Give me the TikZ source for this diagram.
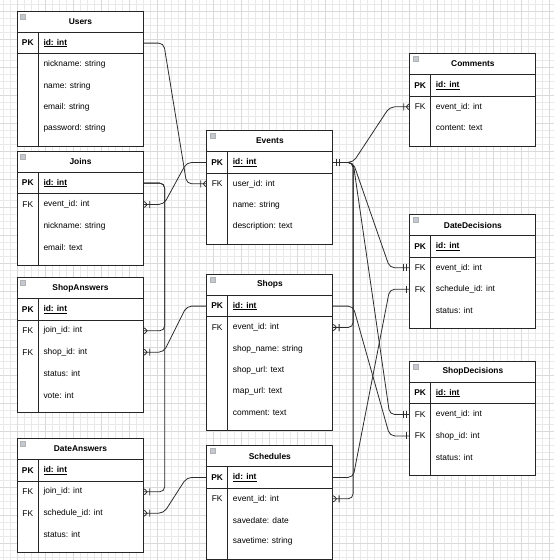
\documentclass[tikz,border=0pt]{standalone}
\usepackage{fontspec}
\setmainfont{Liberation Sans}
\usepackage{tikz}
\usetikzlibrary{positioning,backgrounds,decorations.markings}
\definecolor{gridminor}{RGB}{233,233,233}
\definecolor{gridmajor}{RGB}{218,218,218}
\definecolor{linegray}{RGB}{45,45,45}
\definecolor{icongray}{RGB}{196,200,208}

\newcommand{\tblfont}{\fontsize{8.4}{10}\selectfont}
\newcommand{\ertable}[5]{%
  \node[tblhead, anchor=north west] (#1) at (#2) {#3};
  \node[tblrow, anchor=north west] (#1-0) at (#1.south west) {};
  \node[keytext, font=\tblfont\bfseries] at ([xshift=10.5pt]#1-0.west) {PK};
  \node[fieldtext, font=\tblfont\bfseries] at ([xshift=26pt]#1-0.west) {\underline{#4}};
  \coordinate (#1-end) at (#1-0.south west);
  \foreach \k/\f [count=\i, remember=\i as \j (initially 0)] in {#5} {
    \node[tblrow, anchor=north west] (#1-\i) at (#1-\j.south west) {};
    \node[keytext] at ([xshift=10.5pt]#1-\i.west) {\k};
    \node[fieldtext] at ([xshift=26pt]#1-\i.west) {\f};
    \coordinate (#1-end) at (#1-\i.south west);
  }
  \begin{scope}[on background layer]
    \draw[tblline, fill=white] (#1.north west) rectangle ([xshift=126pt, yshift=-7pt]#1-end);
  \end{scope}
  \draw[tblline] (#1.south west) -- (#1.south east);
  \draw[tblline] (#1-0.south west) -- (#1-0.south east);
  \draw[tblline] ([xshift=21pt]#1-0.north west) -- ([xshift=21pt, yshift=-7pt]#1-end);
  \node[tblicon] at ([xshift=5.5pt, yshift=-5.5pt]#1.north west) {};
}

\begin{document}
\begin{tikzpicture}[x=1pt, y=1pt,
    tblhead/.style={minimum width=126pt, minimum height=21pt, inner sep=0pt, font=\tblfont\bfseries},
    tblrow/.style={minimum width=126pt, minimum height=21pt, inner sep=0pt},
    keytext/.style={inner sep=0pt, font=\tblfont},
    fieldtext/.style={anchor=west, inner sep=0pt, font=\tblfont},
    tblline/.style={draw=black!85, line width=0.8pt},
    tblicon/.style={draw=gray!60, fill=icongray, minimum size=5pt, inner sep=0pt},
    rel/.style={draw=linegray, line width=0.8pt, rounded corners=5pt},
    onemany/.style={postaction={decorate, decoration={markings, mark=at position 1 with {
      \draw[linegray, line width=0.8pt] (0,3) -- (-6,0) -- (0,-3) (-6,3.5) -- (-6,-3.5);}}}},
    many/.style={postaction={decorate, decoration={markings, mark=at position 1 with {
      \draw[linegray, line width=0.8pt] (0,3) -- (-6,0) -- (0,-3);}}}},
    mandone/.style={postaction={decorate, decoration={markings, mark=at position 1 with {
      \draw[linegray, line width=0.8pt] (-3,3.5) -- (-3,-3.5) (-6,3.5) -- (-6,-3.5);}}}},
    startmandone/.style={postaction={decorate, decoration={markings, mark=at position 0 with {
      \draw[linegray, line width=0.8pt] (3,3.5) -- (3,-3.5) (6,3.5) -- (6,-3.5);}}}},
    one/.style={postaction={decorate, decoration={markings, mark=at position 1 with {
      \draw[linegray, line width=0.8pt] (-3,3.5) -- (-3,-3.5);}}}}
  ]
  \useasboundingbox (0,0) rectangle (554,-560);
  \begin{scope}[on background layer]
    \fill[white] (0,0) rectangle (554,-560);
    \draw[gridminor, line width=0.5pt, step=7, shift={(3.3,-4)}] (-7,7) grid (560,-567);
    \draw[gridmajor, line width=0.5pt, step=28, shift={(17.3,-11)}] (-28,28) grid (560,-560);
  \end{scope}

  \ertable{users}{17.3,-11}{Users}{id: int}{/nickname: string, /name: string, /email: string, /password: string}
  \ertable{joins}{17.3,-151}{Joins}{id: int}{FK/event\_id: int, /nickname: string, /email: text}
  \ertable{shopans}{17.3,-277.3}{ShopAnswers}{id: int}{FK/join\_id: int, FK/shop\_id: int, /status: int, /vote: int}
  \ertable{dateans}{17.3,-438.3}{DateAnswers}{id: int}{FK/join\_id: int, FK/schedule\_id: int, /status: int}
  \ertable{events}{206.7,-130.3}{Events}{id: int}{FK/user\_id: int, /name: string, /description: text}
  \ertable{shops}{206.7,-274}{Shops}{id: int}{FK/event\_id: int, /shop\_name: string, /shop\_url: text, /map\_url: text, /comment: text}
  \ertable{sched}{206.7,-445.3}{Schedules}{id: int}{FK/event\_id: int, /savedate: date, /savetime: string}
  \ertable{comments}{409.7,-53.3}{Comments}{id: int}{FK/event\_id: int, /content: text}
  \ertable{datedec}{409.7,-214.3}{DateDecisions}{id: int}{FK/event\_id: int, FK/schedule\_id: int, /status: int}
  \ertable{shopdec}{409.7,-361}{ShopDecisions}{id: int}{FK/event\_id: int, FK/shop\_id: int, /status: int}

  \draw[rel, onemany] (users-0.east) -- ++(20,0) -- ([xshift=-20pt]events-1.west) -- (events-1.west);
  \draw[rel, onemany] (events-0.west) -- ++(-20,0) -- ([xshift=20pt]joins-1.east) -- (joins-1.east);
  \draw[rel, many] (joins-0.east) -- ++(21,0) |- (shopans-1.east);
  \draw[rel, onemany] (joins-0.east) -- ++(21,0) |- (dateans-1.east);
  \draw[rel, onemany] (shops-0.west) -- ++(-20,0) -- ([xshift=20pt]shopans-2.east) -- (shopans-2.east);
  \draw[rel, onemany] (sched-0.west) -- ++(-20,0) -- ([xshift=20pt]dateans-2.east) -- (dateans-2.east);
  \draw[rel, startmandone, onemany] (events-0.east) -- ++(20,0) -- ([xshift=-20pt]comments-1.west) -- (comments-1.west);
  \draw[rel, mandone] (events-0.east) -- ++(20,0) -- ([xshift=-20pt]datedec-1.west) -- (datedec-1.west);
  \draw[rel, mandone] (events-0.east) -- ++(20,0) -- ([xshift=-20pt]shopdec-1.west) -- (shopdec-1.west);
  \draw[rel, onemany] (events-0.east) -- ++(20,0) |- (shops-1.east);
  \draw[rel, onemany] (events-0.east) -- ++(20,0) |- (sched-1.east);
  \draw[rel, one] (shops-0.east) -- ++(20,0) -- ([xshift=-20pt]shopdec-2.west) -- (shopdec-2.west);
  \draw[rel, one] (sched-0.east) -- ++(20,0) -- ([xshift=-20pt]datedec-2.west) -- (datedec-2.west);
\end{tikzpicture}
\end{document}
